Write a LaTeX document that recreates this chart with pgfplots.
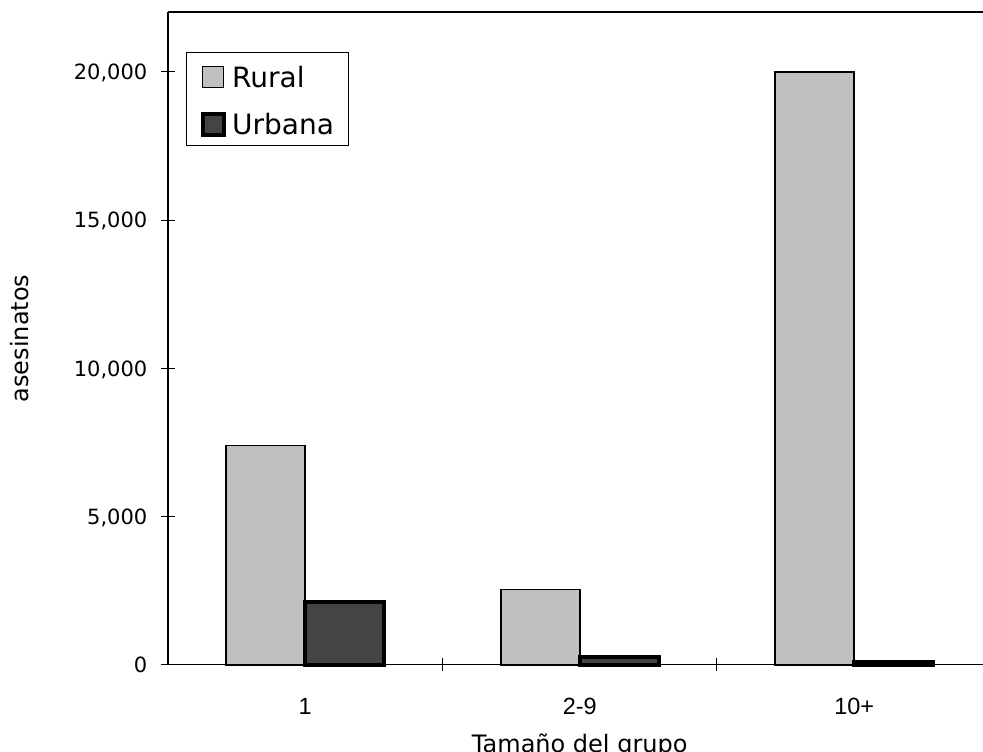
\documentclass[border=0pt]{standalone}
\usepackage{fontspec}
\setmainfont{DejaVu Sans}
\newfontfamily\arialfont{Liberation Sans}
\usepackage{pgfplots}
\pgfplotsset{compat=1.18}
\definecolor{rural}{HTML}{C0C0C0}
\definecolor{urbana}{HTML}{444444}
\begin{document}
\begin{tikzpicture}
\begin{axis}[
  at={(0,0)}, anchor=south west,
  scale only axis, width=617.6pt, height=489.75pt,
  xmin=0, xmax=3, ymin=0, ymax=22020,
  clip=false,
  axis x line*=bottom, axis y line*=left,
  x axis line style={-, line width=0.75pt},
  y axis line style={-, line width=1.5pt},
  ytick={0,5000,10000,15000,20000},
  scaled y ticks=false,
  xtick={0.5,1.5,2.5},
  xticklabels={1,2-9,10+},
  minor xtick={1,2},
  tick align=center,
  major tick length=10.5pt,
  minor tick length=9.75pt,
  tick style={black, line width=0.75pt},
  major x tick style={draw=none},
  minor x tick style={black, line width=0.75pt},
  /pgf/number format/assume math mode=true,
  /pgf/number format/1000 sep={,},
  yticklabel style={font=\fontsize{15.75}{18}\selectfont, anchor=base east, xshift=-6.75pt, yshift=-5.7pt},
  xticklabel style={font=\arialfont\fontsize{17.6}{21}\selectfont, anchor=base, yshift=-32.25pt},
  every axis y label/.style={at={(axis description cs:-0.1797,0.5)}, rotate=90, anchor=center, font=\fontsize{18}{21.6}\selectfont},
  every axis x label/.style={at={(axis description cs:0.5,-0.134)}, anchor=base, font=\fontsize{18}{21.6}\selectfont},
  ylabel={asesinatos},
  xlabel={Tamaño del grupo},
  legend style={at={(axis description cs:0.0219,0.9387)}, anchor=north west,
    draw=black, line width=0.75pt, fill=white,
    font=\fontsize{21}{25}\selectfont,
    inner xsep=10.5pt, inner ysep=3.75pt, row sep=8.25pt, column sep=5pt,
    nodes={inner sep=0pt, text height=22.5pt, text depth=4.5pt}},
  legend cell align=left,
  every axis plot post/.append style={legend image code/.code={\draw[##1] (0pt,-9pt) rectangle (15.75pt,6.75pt);}},
]
\addplot[ybar, bar width=0.288, bar shift=-0.144, fill=rural, draw=black, line width=1.3pt]
  coordinates {(0.5,7400) (1.5,2550) (2.5,20000)};
\addlegendentry{Rural}
\addplot[ybar, bar width=0.288, bar shift=0.144, fill=urbana, draw=black, line width=3pt]
  coordinates {(0.5,2130) (1.5,270) (2.5,110)};
\addlegendentry{Urbana}
\draw[line width=1.5pt] (rel axis cs:0,1) -- (rel axis cs:1,1);
\end{axis}
\pgfresetboundingbox
\useasboundingbox (-126pt,-65.25pt) rectangle (611.25pt,498.75pt);
\end{tikzpicture}
\end{document}
